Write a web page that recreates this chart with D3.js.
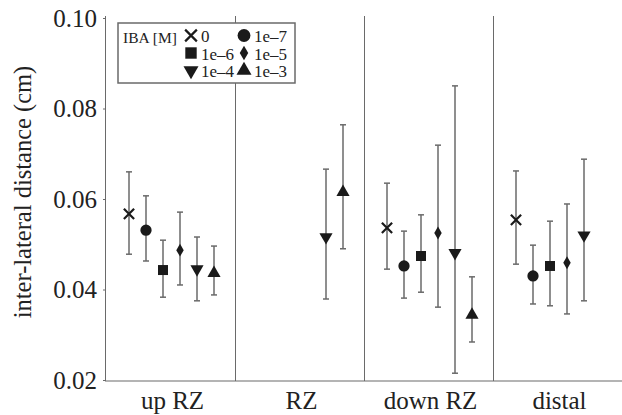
<!DOCTYPE html>
<html lang="en">
<head>
<meta charset="UTF-8">
<title>inter-lateral distance</title>
<style>
  body { margin: 0; background: #fff; }
</style>
</head>
<body>
<div id="chart"></div>
<script src="https://cdnjs.cloudflare.com/ajax/libs/d3/7.8.5/d3.min.js"></script>
<script>
// regions along the root and IBA concentrations
const regions = ["up RZ", "RZ", "down RZ", "distal"];
const concs = ["0", "1e\u20137", "1e\u20136", "1e\u20135", "1e\u20134", "1e\u20133"];
const yTicks = [0.02, 0.04, 0.06, 0.08, 0.10];

// mean, lower and upper end of error bar, one row per region (null = not measured)
const means = [
  [0.0567, 0.0531, 0.0443, 0.0487, 0.0445, 0.0436],
  [null, null, null, null, 0.0516, 0.0615],
  [0.0536, 0.0452, 0.0474, 0.0525, 0.0481, 0.0344],
  [0.0554, 0.0430, 0.0452, 0.0459, 0.0520, null]
];
const lows = [
  [0.0478, 0.0463, 0.0383, 0.0410, 0.0375, 0.0388],
  [null, null, null, null, 0.0379, 0.0490],
  [0.0445, 0.0381, 0.0394, 0.0361, 0.0215, 0.0284],
  [0.0456, 0.0368, 0.0364, 0.0346, 0.0375, null]
];
const highs = [
  [0.0660, 0.0607, 0.0509, 0.0571, 0.0516, 0.0496],
  [null, null, null, null, 0.0666, 0.0764],
  [0.0635, 0.0529, 0.0565, 0.0719, 0.0850, 0.0428],
  [0.0662, 0.0498, 0.0551, 0.0589, 0.0688, null]
];

const W = 622, H = 415;
const FONT = "Liberation Serif";
const svg = d3.select("#chart").append("svg")
  .attr("width", W).attr("height", H)
  .attr("font-family", FONT);

const x = d3.scaleBand().domain(regions).range([106, 622]);
const xi = d3.scalePoint().domain(concs).range([23, 108]);
const y = d3.scaleLinear().domain([0.02, 0.10]).range([380, 18]);

const grey = "#6a6a6a";

// symbols per concentration
const shapes = [
  { type: d3.symbolTimes, size: 70, stroke: true },
  { type: d3.symbolCircle, size: 100 },
  { type: d3.symbolSquare, size: 100 },
  { type: d3.symbolDiamond, size: 48 },
  { type: d3.symbolTriangle, size: 75, rot: 180 },
  { type: d3.symbolTriangle, size: 75 }
];

function drawSymbol(g, i, cx, cy, k = 1) {
  const s = shapes[i];
  const p = g.append("path")
    .attr("d", d3.symbol().type(s.type).size(s.size * k)())
    .attr("transform", `translate(${cx},${cy})` + (s.rot ? ` rotate(${s.rot})` : ""));
  if (s.stroke) p.attr("fill", "none").attr("stroke", "#1a1a1a").attr("stroke-width", 2.2);
  else p.attr("fill", "#1a1a1a");
}

function txt(sel, size) {
  return sel.attr("font-family", FONT).attr("font-size", size).attr("fill", "#222");
}

// axes
const yAxis = svg.append("g")
  .attr("transform", "translate(106,0)")
  .call(d3.axisLeft(y).tickValues(yTicks).tickFormat(d3.format(".2f")).tickSize(3).tickPadding(6));
yAxis.attr("font-family", FONT).attr("font-size", 25);
yAxis.select(".domain").attr("stroke", grey).attr("d", "M-0.5,16V380.5");
yAxis.selectAll(".tick line").attr("stroke", grey);
txt(yAxis.selectAll(".tick text"), 25);

svg.append("line")
  .attr("x1", 105).attr("x2", 622).attr("y1", 381).attr("y2", 381)
  .attr("stroke", grey).attr("stroke-width", 1.2);

// region separators
svg.selectAll(".sep").data(regions.slice(1)).join("line")
  .attr("class", "sep")
  .attr("x1", d => x(d) + 0.5).attr("x2", d => x(d) + 0.5)
  .attr("y1", 16).attr("y2", 381)
  .attr("stroke", grey).attr("stroke-width", 1);

txt(svg.selectAll(".xlab").data(regions).join("text"), 25)
  .attr("class", "xlab")
  .attr("x", d => x(d) + x.bandwidth() / 2 + 2)
  .attr("y", 409)
  .attr("text-anchor", "middle")
  .text(d => d);

txt(svg.append("text"), 24.5)
  .attr("transform", "translate(31,192) rotate(-90)")
  .attr("text-anchor", "middle")
  .text("inter-lateral distance (cm)");

// error bars and markers
regions.forEach((r, gi) => {
  const g = svg.append("g");
  concs.forEach((c, i) => {
    const m = means[gi][i];
    if (m == null) return;
    const cx = x(r) + xi(c);
    const lo = y(lows[gi][i]), hi = y(highs[gi][i]);
    g.append("line").attr("x1", cx).attr("x2", cx).attr("y1", lo).attr("y2", hi)
      .attr("stroke", grey).attr("stroke-width", 1.5);
    [lo, hi].forEach(v => g.append("line")
      .attr("x1", cx - 3).attr("x2", cx + 3).attr("y1", v).attr("y2", v)
      .attr("stroke", grey).attr("stroke-width", 1.5));
    drawSymbol(g, i, cx, y(m));
  });
});

// legend: "0" and "1e-7" on the first row, then pairs
const lg = svg.append("g");
lg.append("rect").attr("x", 118).attr("y", 23).attr("width", 177).attr("height", 60)
  .attr("fill", "#fff").attr("stroke", grey).attr("stroke-width", 1.5);
txt(lg.append("text"), 15.5).attr("x", 123).attr("y", 42.5).text("IBA [M]");
concs.forEach((c, i) => {
  const sx = 191 + (i % 2) * 53, sy = 35.5 + Math.floor(i / 2) * 17.5;
  drawSymbol(lg, i, sx, sy, 1.3);
  txt(lg.append("text"), 17).attr("x", sx + 10).attr("y", sy + 6.5).text(c);
});
</script>
</body>
</html>
